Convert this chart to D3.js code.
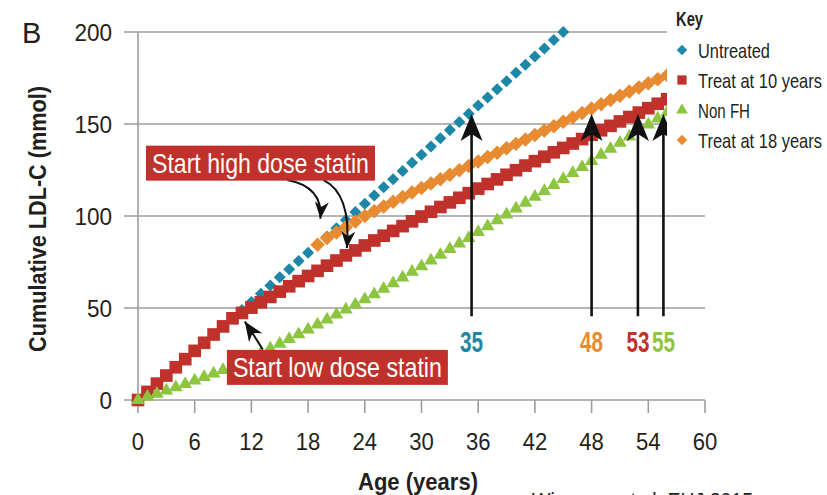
<!DOCTYPE html>
<html>

<head>
  <meta charset="utf8">
  <script src="https://d3js.org/d3.v7.min.js"></script>
  <style>
    body { margin: 0; background: #fff; }
    text { font-family: "Liberation Sans", Arial, sans-serif; fill: #231f20; }
    .tick-label { font-size: 24.5px; }
    .title { font-size: 24px; font-weight: bold; }
    .box-label { fill: #fff; font-size: 28px; }
    .key { font-size: 21px; }
  </style>
</head>

<body>
  <svg id="chart" width="827" height="495"></svg>
  <script>
    // ages 0..56, one point per year
    var untreated = [0, 4.4, 8.9, 13.3, 17.8, 22.2, 26.7, 31.1, 35.6, 40, 44.4, 48.9, 53.3, 57.8, 62.2, 66.7, 71.1, 75.6, 80, 84.4,
      88.9, 93.3, 97.8, 102.2, 106.7, 111.1, 115.6, 120, 124.4, 128.9, 133.3, 137.8, 142.2, 146.7, 151.1, 155.6, 160, 164.4, 168.9, 173.3,
      177.8, 182.2, 186.7, 191.1, 195.6, 200];
    var treat10 = [0, 4.4, 8.9, 13.3, 17.8, 22.2, 26.7, 31.1, 35.6, 40, 44.4, 47.3, 50.2, 53.1, 56, 58.9, 61.8, 64.6, 67.4, 70.2,
      73, 75.8, 78.6, 81.3, 84, 86.7, 89.3, 91.9, 94.5, 97.1, 99.7, 102.3, 104.9, 107.4, 109.9, 112.4, 114.9, 117.4, 119.9, 122.4,
      124.9, 127.4, 129.8, 132.2, 134.6, 137, 139.4, 141.8, 144.2, 146.6, 149, 151.4, 153.8, 156.2, 158.6, 161, 163.4];
    var nonFH = [0, 1.7, 3.4, 5.1, 6.9, 8.7, 10.5, 12.4, 14.3, 16.2, 18, 20.3, 22.8, 25.3, 27.9, 30.5, 33.1, 35.7, 38.3, 41,
      43.7, 46.4, 49.1, 51.9, 54.7, 57.4, 60.4, 63.4, 66.5, 69.6, 72.7, 75.8, 78.9, 82, 85, 88, 91.2, 94.4, 97.6, 100.8,
      104, 107.2, 110.4, 113.6, 116.8, 120, 123.3, 126.6, 129.9, 133.2, 136.5, 139.8, 143.1, 146.4, 149.7, 153, 156.3];
    // ages 19..56
    var treat18 = [84.4, 88, 91, 94, 97, 100, 102.6, 105.2, 107.8, 110.3, 112.8, 115.2, 117.6, 120, 122.4, 124.8, 127.2, 129.6, 132, 134.4,
      136.8, 139.2, 141.6, 144, 146.4, 148.8, 151.2, 153.6, 156, 158.4, 160.7, 163, 165.3, 167.6, 169.9, 172.1, 174.3, 176.5];
    var treat18Start = 19;

    var xTicks = [0, 6, 12, 18, 24, 30, 36, 42, 48, 54, 60];
    var yTicks = [0, 50, 100, 150, 200];

    var keyNames = ['Untreated', 'Treat at 10 years', 'Non FH', 'Treat at 18 years'];
    var keyColors = ['#1c87a6', '#c1312b', '#8dc540', '#e88a30'];

    // age at which each strategy reaches the risk threshold
    var thresholdAges = [35.3, 48, 52.9, 55.6];
    var thresholdLabels = ['35', '48', '53', '55'];
    var thresholdColors = ['#1c87a6', '#e88a30', '#c1312b', '#8dc540'];

    var chart = d3.select('#chart');
    var x = d3.scaleLinear().domain([0, 60]).range([138, 705]);
    var y = d3.scaleLinear().domain([0, 200]).range([400, 32]);

    // squeeze text to a condensed look
    function squeeze(sel, f) {
      sel.each(function () {
        var w = this.getComputedTextLength();
        d3.select(this).attr('textLength', w * f).attr('lengthAdjust', 'spacingAndGlyphs');
      });
    }
    function fit(sel, w) {
      sel.attr('textLength', w).attr('lengthAdjust', 'spacingAndGlyphs');
    }

    var grid = chart.append('g');
    grid.selectAll('.hline')
      .data(yTicks)
      .enter()
      .append('line')
      .attr('x1', 124).attr('x2', x(60))
      .attr('y1', (d) => y(d)).attr('y2', (d) => y(d))
      .attr('stroke', '#9d9d9d').attr('stroke-width', 1.6);
    grid.append('line')
      .attr('x1', x(0)).attr('x2', x(0))
      .attr('y1', y(200)).attr('y2', y(0) + 13)
      .attr('stroke', '#9d9d9d').attr('stroke-width', 1.6);
    grid.selectAll('.vtick')
      .data(xTicks.slice(1))
      .enter()
      .append('line')
      .attr('x1', (d) => x(d)).attr('x2', (d) => x(d))
      .attr('y1', y(0)).attr('y2', y(0) + 13)
      .attr('stroke', '#9d9d9d').attr('stroke-width', 1.6);

    chart.selectAll('.xlab')
      .data(xTicks)
      .enter()
      .append('text')
      .attr('class', 'tick-label')
      .attr('x', (d) => x(d))
      .attr('y', 450)
      .attr('text-anchor', 'middle')
      .text((d) => d)
      .call(squeeze, 0.9);
    chart.selectAll('.ylab')
      .data(yTicks)
      .enter()
      .append('text')
      .attr('class', 'tick-label')
      .attr('x', 112)
      .attr('y', (d) => y(d) + 8.5)
      .attr('text-anchor', 'end')
      .text((d) => d)
      .call(squeeze, 0.92);

    chart.append('text').attr('class', 'title').attr('x', 418).attr('y', 490)
      .attr('text-anchor', 'middle').text('Age (years)').call(fit, 120);
    chart.append('text').attr('class', 'title')
      .attr('transform', 'translate(46,219) rotate(-90)')
      .attr('text-anchor', 'middle').text('Cumulative LDL-C (mmol)').call(fit, 266);
    chart.append('text').attr('x', 22).attr('y', 43).style('font-size', '29px').text('B');
    chart.append('text').attr('x', 532).attr('y', 508).style('font-size', '22px')
      .text('Wiegman et al. EHJ 2015').call(fit, 221);

    // series
    var marks = chart.append('g');
    marks.selectAll('.untreated')
      .data(untreated)
      .enter()
      .append('path')
      .attr('d', d3.symbol().type(d3.symbolSquare).size(72)())
      .attr('transform', (d, i) => 'translate(' + x(i) + ',' + y(d) + ') rotate(45)')
      .attr('fill', keyColors[0]);
    marks.selectAll('.treat18')
      .data(treat18)
      .enter()
      .append('path')
      .attr('d', d3.symbol().type(d3.symbolSquare).size(105)())
      .attr('transform', (d, i) => 'translate(' + x(i + treat18Start) + ',' + y(d) + ') rotate(45)')
      .attr('fill', keyColors[3]);
    marks.selectAll('.treat10')
      .data(treat10)
      .enter()
      .append('path')
      .attr('d', d3.symbol().type(d3.symbolSquare).size(160)())
      .attr('transform', (d, i) => 'translate(' + x(i) + ',' + y(d) + ')')
      .attr('fill', keyColors[1]);
    marks.selectAll('.nonfh')
      .data(nonFH)
      .enter()
      .append('path')
      .attr('d', d3.symbol().type(d3.symbolTriangle).size(80)())
      .attr('transform', (d, i) => 'translate(' + x(i) + ',' + y(d) + ')')
      .attr('fill', keyColors[2]);

    // threshold arrows
    var head = 'M0,0 L-11,27 L0,20 L11,27 Z';
    var arrows = chart.selectAll('.thr')
      .data(thresholdAges)
      .enter()
      .append('g')
      .attr('transform', (d) => 'translate(' + x(d) + ',0)');
    arrows.append('line')
      .attr('x1', 0).attr('x2', 0)
      .attr('y1', y(45.5)).attr('y2', y(155.5) + 10)
      .attr('stroke', '#111').attr('stroke-width', 2.6);
    arrows.append('path')
      .attr('d', head)
      .attr('transform', 'translate(0,' + y(155.5) + ')')
      .attr('fill', '#111');
    arrows.append('text')
      .attr('y', 352)
      .attr('text-anchor', 'middle')
      .style('font-size', '29px').style('font-weight', 'bold')
      .style('fill', (d, i) => thresholdColors[i])
      .text((d, i) => thresholdLabels[i])
      .call(fit, 23);

    // annotation boxes
    function labelBox(txt, cx, cy, w) {
      var g = chart.append('g');
      g.append('rect')
        .attr('x', x(cx) - w / 2 - 6).attr('y', y(cy) - 17)
        .attr('width', w + 12).attr('height', 35)
        .attr('fill', '#c1312b');
      g.append('text')
        .attr('class', 'box-label')
        .attr('x', x(cx)).attr('y', y(cy) + 10)
        .attr('text-anchor', 'middle')
        .text(txt)
        .call(fit, w);
    }

    function curvedArrow(p0, c, p1, s) {
      var a = [x(p0[0]), y(p0[1])], k = [x(c[0]), y(c[1])], b = [x(p1[0]), y(p1[1])];
      var ang = Math.atan2(b[1] - k[1], b[0] - k[0]) * 180 / Math.PI - 90;
      chart.append('path')
        .attr('d', 'M' + a + ' Q' + k + ' ' + b)
        .attr('fill', 'none').attr('stroke', '#111').attr('stroke-width', 2);
      chart.append('path')
        .attr('d', 'M0,0 L' + (-7 * s) + ',' + (-17 * s) + ' L0,' + (-12 * s) + ' L' + (7 * s) + ',' + (-17 * s) + ' Z')
        .attr('transform', 'translate(' + b + ') rotate(' + ang + ')')
        .attr('fill', '#111');
    }

    curvedArrow([15.8, 119.6], [19.6, 116], [19.3, 98.5], 1);
    curvedArrow([19.6, 119.6], [22.6, 112], [22.1, 82.5], 1);
    curvedArrow([13.2, 27.5], [12.3, 35], [11.3, 42.6], 1.15);
    labelBox('Start high dose statin', 12.96, 129, 217);
    labelBox('Start low dose statin', 21.1, 18, 209);

    // key
    var key = chart.append('g');
    key.append('rect').attr('x', 667).attr('y', 0).attr('width', 160).attr('height', 152).attr('fill', '#fff');
    key.append('text').attr('class', 'key').attr('x', 676).attr('y', 26)
      .style('font-weight', 'bold').text('Key').call(fit, 27);
    var keyShapes = [
      { type: d3.symbolSquare, size: 55, rot: 45 },
      { type: d3.symbolSquare, size: 85, rot: 0 },
      { type: d3.symbolTriangle, size: 60, rot: 0 },
      { type: d3.symbolSquare, size: 55, rot: 45 }
    ];
    var keyWidths = [72, 124, 52, 124];
    var item = key.selectAll('.item')
      .data(keyNames)
      .enter()
      .append('g')
      .attr('transform', (d, i) => 'translate(0,' + (50 + i * 30) + ')');
    item.append('path')
      .attr('d', (d, i) => d3.symbol().type(keyShapes[i].type).size(keyShapes[i].size)())
      .attr('transform', (d, i) => 'translate(682,0) rotate(' + keyShapes[i].rot + ')')
      .attr('fill', (d, i) => keyColors[i]);
    item.append('text')
      .attr('class', 'key')
      .attr('x', 698).attr('y', 7.5)
      .text((d) => d)
      .attr('textLength', (d, i) => keyWidths[i])
      .attr('lengthAdjust', 'spacingAndGlyphs');
  </script>
</body>

</html>
